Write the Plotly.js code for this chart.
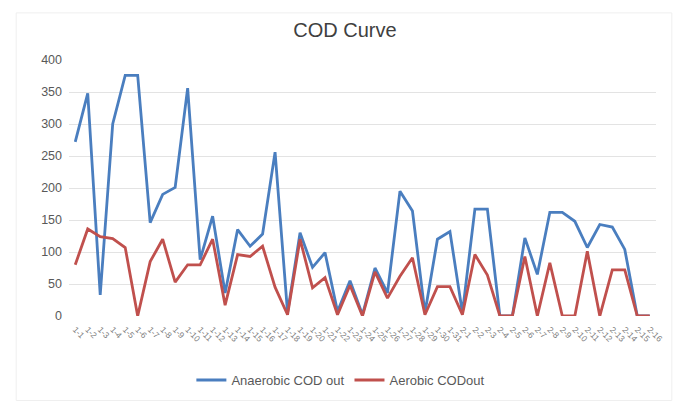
<!DOCTYPE html>
<html>
<head>
<meta charset="utf-8">
<script src="https://cdn.plot.ly/plotly-3.0.1.min.js"></script>
<style>
html,body{margin:0;padding:0;background:#fff;}
#chart{width:675px;height:403px;}
</style>
</head>
<body>
<div id="chart"></div>
<script>
var categories = ["1-1","1-2","1-3","1-4","1-5","1-6","1-7","1-8","1-9","1-10",
  "1-11","1-12","1-13","1-14","1-15","1-16","1-17","1-18","1-19","1-20",
  "1-21","1-22","1-23","1-24","1-25","1-26","1-27","1-28","1-29","1-30",
  "1-31","2-1","2-2","2-3","2-4","2-5","2-6","2-7","2-8","2-9",
  "2-10","2-11","2-12","2-13","2-14","2-15","2-16"];
var anaerobic = [272,348,33,300,376,376,146,190,201,356,
  88,156,36,135,109,128,256,5,130,76,
  99,7,55,2,75,36,195,164,5,120,
  132,5,167,167,0,0,122,65,162,162,
  148,107,143,139,104,0,0];
var aerobic = [80,136,124,121,107,0,85,120,53,80,
  80,120,17,96,93,109,45,2,120,44,
  60,2,48,0,69,28,62,91,2,46,
  46,2,96,64,0,0,93,0,83,0,
  0,101,0,72,72,0,0];
var seriesNames = ["Anaerobic COD out","Aerobic CODout"];
var yTicks = [0,50,100,150,200,250,300,350,400];

var traces = [
  {x: categories, y: anaerobic, name: seriesNames[0], type: 'scatter', mode: 'lines',
   line: {color: '#4A7EBF', width: 2.8}},
  {x: categories, y: aerobic, name: seriesNames[1], type: 'scatter', mode: 'lines',
   line: {color: '#C0504D', width: 2.8}}
];

var layout = {
  width: 675, height: 403,
  margin: {l: 69, r: 19, t: 60, b: 87},
  paper_bgcolor: '#ffffff', plot_bgcolor: '#ffffff',
  font: {family: 'Liberation Sans, Arial, sans-serif', color: '#595959', size: 10},
  title: {text: 'COD Curve', x: 0.511, xanchor: 'center', y: 0.925, yanchor: 'middle',
    font: {size: 20, color: '#404040', family: 'Liberation Sans, Arial, sans-serif'}},
  xaxis: {type: 'category', range: [-0.5, categories.length - 0.5],
    showgrid: false, zeroline: false, showline: false, ticks: '',
    tickangle: 45, tickfont: {size: 8.5, color: '#808080'}, automargin: false,
    ticklabelstandoff: 6},
  yaxis: {range: [0, 400], tickvals: yTicks, showgrid: true, gridcolor: '#e3e3e3',
    gridwidth: 1, zeroline: false, showline: false, ticks: '',
    tickfont: {size: 12.5, color: '#595959'}, automargin: false, ticklabelstandoff: 6},
  showlegend: true,
  legend: {orientation: 'h', xref: 'container', yref: 'container',
    x: 0.505, xanchor: 'center', y: 0.057, yanchor: 'middle',
    font: {size: 13, color: '#595959'}, traceorder: 'normal'},
  shapes: [{type: 'rect', xref: 'paper', yref: 'paper',
    x0: -0.09, x1: 1.027, y0: -0.33, y1: 1.184,
    line: {color: '#efefef', width: 1}, fillcolor: 'rgba(0,0,0,0)', layer: 'below'}]
};

Plotly.newPlot('chart', traces, layout, {displayModeBar: false, staticPlot: true});
</script>
</body>
</html>
